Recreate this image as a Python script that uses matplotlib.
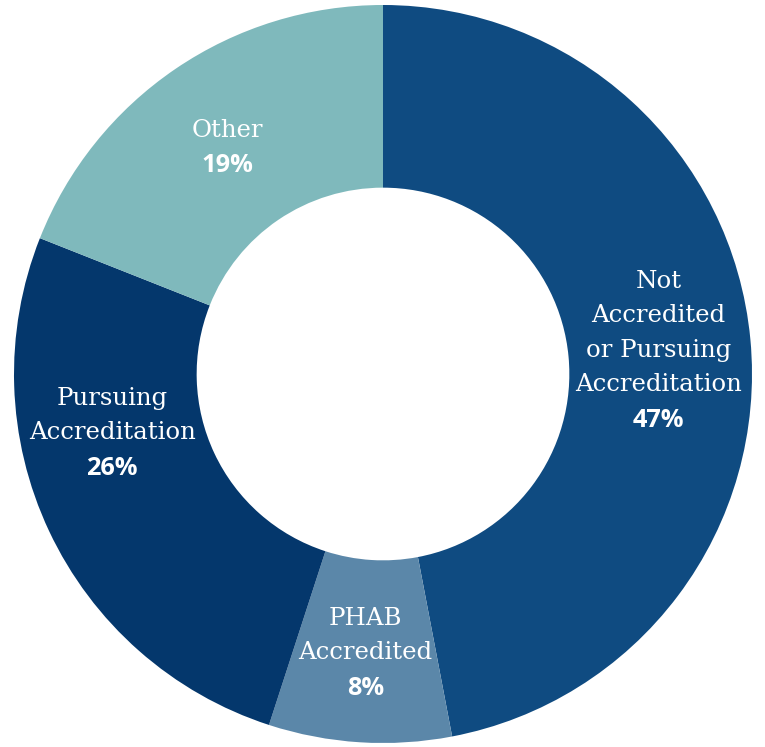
import matplotlib
matplotlib.use("Agg")
import matplotlib.pyplot as plt
import numpy as np

categories = ["Not\nAccredited\nor Pursuing\nAccreditation", "PHAB\nAccredited",
              "Pursuing\nAccreditation", "Other"]
values = [47, 8, 26, 19]
pct_labels = ["47%", "8%", "26%", "19%"]
colors = ["#0F4B81", "#5B87A9", "#04376C", "#7FB9BC"]
# label angle overrides (degrees); None = slice middle
label_angle_override = [None, None, -168.3, None]

W, H, DPI = 7.65, 7.47, 100
fig = plt.figure(figsize=(W, H), dpi=DPI)
ax = fig.add_axes([0, 0, 1, 1])

R_PX = 369.0
CX, CY = 383.0, 374.0
wedges, _ = ax.pie(values, colors=colors, startangle=90, counterclock=False,
                   radius=1.0, wedgeprops=dict(width=0.495, linewidth=0))
ax.set_aspect("auto")
ax.set_xlim(-CX / R_PX, (W * DPI - CX) / R_PX)
ax.set_ylim(-(H * DPI - CY) / R_PX, CY / R_PX)
ax.axis("off")

spacing_px = 34.5
px2pt = 72.0 / DPI
cap_half_px = 9.0
label_r = 0.75

for i, w in enumerate(wedges):
    ang = (w.theta1 + w.theta2) / 2.0
    if label_angle_override[i] is not None:
        ang = label_angle_override[i]
    x = label_r * np.cos(np.radians(ang))
    y = label_r * np.sin(np.radians(ang))
    lines = categories[i].split("\n")
    n = len(lines)
    allines = lines + [pct_labels[i]]
    for j, txt in enumerate(allines):
        off_px = (j - n / 2.0) * spacing_px + cap_half_px
        if j < n:
            kw = dict(fontfamily="DejaVu Serif", fontsize=17.6, fontweight="normal")
        else:
            kw = dict(fontfamily="Open Sans", fontsize=18.3, fontweight="bold")
            off_px += 1
        ax.annotate(txt, xy=(x, y), xytext=(0, -off_px * px2pt),
                    textcoords="offset points", ha="center", va="baseline",
                    color="white", **kw)

fig.savefig("out.png", dpi=DPI)
